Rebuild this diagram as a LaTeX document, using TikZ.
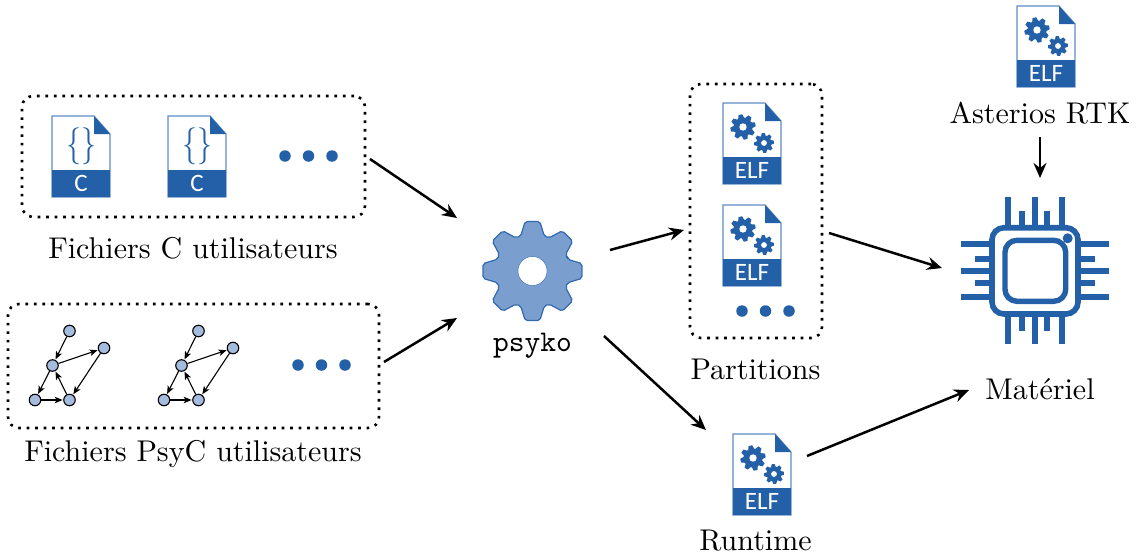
\documentclass[tikz,border=0pt]{standalone}
\usepackage{fontspec}
\newfontfamily\iconfont{Carlito}
\usetikzlibrary{arrows.meta}
\definecolor{iconblue}{HTML}{2360A8}
\definecolor{iconedge}{HTML}{5F8DC4}
\definecolor{gearfill}{HTML}{7A9FCF}
\definecolor{gearedge}{HTML}{3268AE}
\definecolor{vertexfill}{HTML}{A3BBDC}
\newcommand{\mygear}[6]{% x, y, scale, rotation, style, hole radius
  \path[#5,shift={(#1,#2)},rotate=#4,scale=#3]
    (-18.5:37) \foreach \a in {0,45,...,315}{ -- (\a-18.5:37) -- (\a-8.5:50) -- (\a+8.5:50) -- (\a+18.5:37) } -- cycle;
  \path[fill=white,draw=#6] (#1,#2) circle[radius=#3*14.5];
}
\tikzset{
  x=1pt,y=-1pt,
  flow/.style={draw=black,line width=2.5pt,-{Stealth[length=15pt,width=13pt,inset=5pt]}},
  edgearrow/.style={draw=black,line width=1.1pt,-{Stealth[length=8pt,width=6.5pt,inset=2pt]},shorten >=0.5pt},
  vertex/.style={circle,draw=black,line width=1.1pt,fill=vertexfill,minimum size=11.5pt,inner sep=0pt},
  groupbox/.style={draw=black,line width=2.6pt,dash pattern=on 2.6pt off 5.9pt,rounded corners=11pt,inner sep=0pt},
  caption/.style={inner sep=0pt,transform shape,scale=3.0},
  filetag/.style={text=white,font=\iconfont\fontsize{25}{25}\selectfont,inner sep=0pt},
  fileframe/.style={inner sep=0pt,minimum width=58pt,minimum height=81pt},
  moredots/.style={circle,fill=iconblue,minimum size=11.5pt,inner sep=0pt},
  pin/.style={draw=iconblue,line width=6pt},
  filesheet/.pic={
    \node[fileframe] (-frame) at (29,40.5) {};
    \path[fill=white,draw=iconedge,line width=1.2pt] (0,0) -- (42,0) -- (58,18) -- (58,81) -- (0,81) -- cycle;
    \path[fill=iconblue] (42,0) -- (58,18) -- (42,18) -- cycle;
    \path[fill=iconblue] (0,54) rectangle (58,81);
  },
  elffile/.pic={
    \pic (-s) {filesheet};
    \mygear{20}{24}{0.255}{12}{fill=iconblue}{none}
    \mygear{41}{40}{0.2}{5}{fill=iconblue}{none}
    \node[filetag] (-tag) at (29,67.5) {ELF};
  },
  cfile/.pic={
    \pic (-s) {filesheet};
    \node[text=iconblue,inner sep=0pt,transform shape,xscale=3.0,yscale=3.7] (-code) at (29,30) {\{\}};
    \node[filetag] (-tag) at (29,67.5) {C};
  },
}
\begin{document}
\begin{tikzpicture}
\useasboundingbox (0,0) rectangle (1136,557);

% dotted groups
\node[groupbox,minimum width=343pt,minimum height=121pt] (cbox) at (193.5,156.5) {};
\node[groupbox,minimum width=371pt,minimum height=124pt] (pbox) at (193.5,366) {};
\node[groupbox,minimum width=132pt,minimum height=254pt] (partbox) at (756,211) {};

% C files
\pic (cf1) at (52,116) {cfile};
\pic (cf2) at (168,116) {cfile};
\node[moredots] (cd1) at (285,156) {};
\node[moredots] (cd2) at (308.5,156) {};
\node[moredots] (cd3) at (332,156) {};
\node[caption] (clabel) at (193,248.5) {Fichiers C utilisateurs};

% PsyC graphs
\foreach \g/\dx in {a/0,b/129}{
  \node[vertex] (\g1) at (69.5+\dx,331) {};
  \node[vertex] (\g2) at (52.5+\dx,365.5) {};
  \node[vertex] (\g3) at (104+\dx,348) {};
  \node[vertex] (\g4) at (35+\dx,400) {};
  \node[vertex] (\g5) at (69.5+\dx,400) {};
  \draw[edgearrow] (\g1) -- (\g2);
  \draw[edgearrow] (\g2) -- (\g3);
  \draw[edgearrow] (\g3) -- (\g5);
  \draw[edgearrow] (\g2) -- (\g4);
  \draw[edgearrow] (\g4) -- (\g5);
  \draw[edgearrow] (\g5) -- (\g2);
}
\node[moredots] (pd1) at (298,365) {};
\node[moredots] (pd2) at (321.5,365) {};
\node[moredots] (pd3) at (345,365) {};
\node[caption] (plabel) at (193,454) {Fichiers PsyC utilisateurs};

% psyko
\node[circle,inner sep=0pt,minimum size=100pt] (gear) at (532.5,271) {};
\mygear{532.5}{271}{1}{0}{fill=gearfill,draw=gearedge,line width=1.2pt,rounded corners=2pt}{gearedge}
\node[caption,font=\ttfamily] (psyko) at (532.5,346) {psyko};

% partitions
\pic (elf1) at (723,103) {elffile};
\pic (elf2) at (723,205) {elffile};
\node[moredots] (qd1) at (742,311) {};
\node[moredots] (qd2) at (765.5,311) {};
\node[moredots] (qd3) at (789,311) {};
\node[caption] (partlabel) at (755.5,369) {Partitions};

% runtime
\pic (elf3) at (733,434) {elffile};
\node[caption] (runlabel) at (755.5,541) {Runtime};

% RTK
\pic (elf4) at (1017,6) {elffile};
\node[caption] (rtklabel) at (1040,113) {Asterios RTK};

% chip
\node[inner sep=0pt,minimum width=86pt,minimum height=86pt] (chip) at (1035,270.7) {};
\foreach \x in {1008.3,1035,1061.7}{
  \draw[pin] (\x,197.3) -- (\x,228);
  \draw[pin] (\x,314) -- (\x,344.3);
}
\foreach \x in {1022.3,1047.3}{
  \draw[pin] (\x,211.3) -- (\x,228);
  \draw[pin] (\x,314) -- (\x,330.7);
}
\foreach \y in {244.3,270.7,297.3}{
  \draw[pin] (961.3,\y) -- (992,\y);
  \draw[pin] (1078,\y) -- (1108.7,\y);
}
\foreach \y in {258.7,283.3}{
  \draw[pin] (975.3,\y) -- (992,\y);
  \draw[pin] (1078,\y) -- (1094.7,\y);
}
\draw[iconblue,line width=5.6pt,rounded corners=12pt,fill=white] (992,227.7) rectangle (1078,314);
\draw[iconblue,line width=5.4pt,rounded corners=12pt] (1005,240.3) rectangle (1065.7,301.3);
\path[fill=iconblue] (1067.7,238.3) circle[radius=5pt];
\node[caption] (hwlabel) at (1040,389) {Matériel};

% connectors
\draw[flow] ([shift={(3.7,2.5)}]cbox.east) -- ([shift={(-75.5,-53)}]gear.center);
\draw[flow] ([shift={(3.7,-4)}]pbox.east) -- ([shift={(-75.5,47)}]gear.center);
\draw[flow] ([shift={(77.5,-21)}]gear.center) -- ([shift={(-4.7,19)}]partbox.west);
\draw[flow] ([shift={(71.5,65)}]gear.center) -- ([shift={(-56,-44.5)}]elf3-s-frame.center);
\draw[flow] ([shift={(5.7,22)}]partbox.east) -- ([shift={(-93,-2.7)}]chip.center);
\draw[flow] ([shift={(45,-18.5)}]elf3-s-frame.center) -- ([shift={(-71,1)}]hwlabel.center);
\draw[flow] ([shift={(0,24)}]rtklabel.center) -- ([shift={(5,-92.7)}]chip.center);
\end{tikzpicture}
\end{document}
